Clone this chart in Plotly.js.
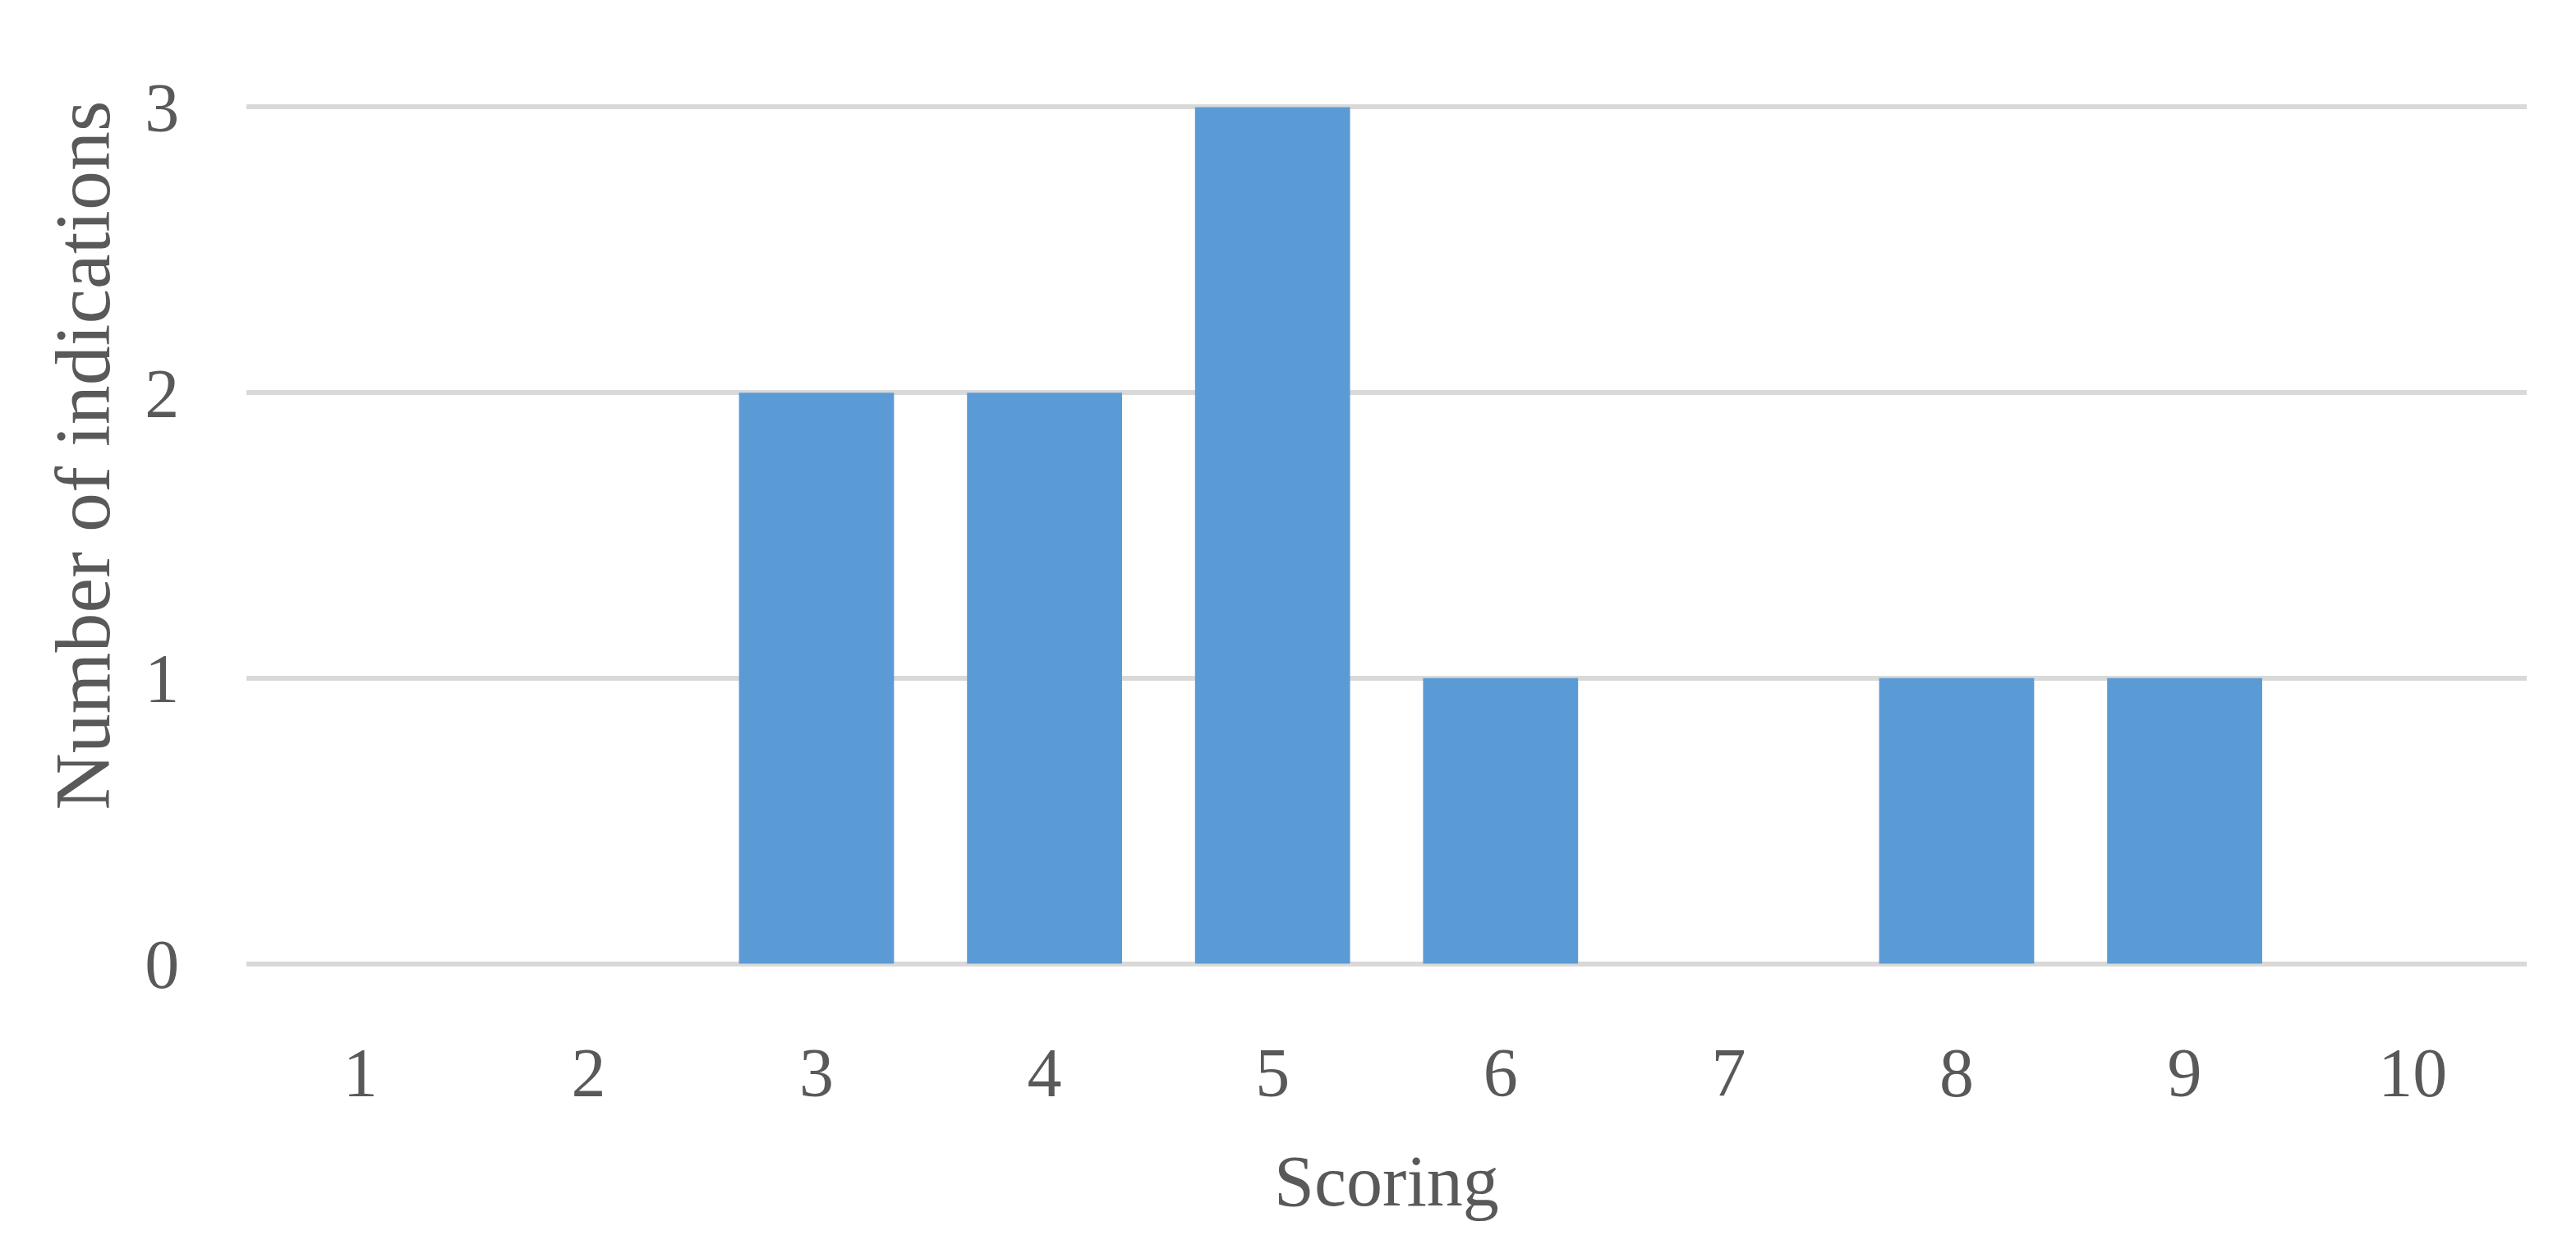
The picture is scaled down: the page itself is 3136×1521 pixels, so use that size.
<!DOCTYPE html>
<html>
<head>
<meta charset="utf-8">
<script src="https://cdn.plot.ly/plotly-3.0.1.min.js"></script>
<style>
  html, body { margin: 0; padding: 0; background: #fff; }
  #chart { width: 3136px; height: 1521px; }
</style>
</head>
<body>
<div id="chart"></div>
<script>
var scores = ['1', '2', '3', '4', '5', '6', '7', '8', '9', '10'];
var counts = [0, 0, 2, 2, 3, 1, 0, 1, 1, 0];
var yTicks = [0, 1, 2, 3];

var textColor = '#595959';
var gridColor = '#D9D9D9';

var trace = {
  x: scores,
  y: counts,
  type: 'bar',
  marker: { color: '#5B9BD5' },
  hoverinfo: 'x+y'
};

// range padded a hair so the 0 and 3 gridlines are drawn
var layout = {
  width: 3136,
  height: 1521,
  margin: { l: 300, r: 60, t: 127, b: 344, pad: 0 },
  paper_bgcolor: '#fff',
  plot_bgcolor: '#fff',
  bargap: 0.32,
  showlegend: false,
  font: { family: '"Liberation Serif", "DejaVu Serif", serif', size: 84, color: textColor },
  xaxis: {
    type: 'category',
    title: { text: 'Scoring', font: { size: 88, color: textColor }, standoff: 54 },
    showgrid: false,
    zeroline: false,
    showline: false,
    ticks: 'outside',
    ticklen: 56,
    tickcolor: 'rgba(0,0,0,0)',
    tickfont: { size: 84, color: textColor }
  },
  yaxis: {
    range: [-0.01, 3.01],
    tickvals: yTicks,
    ticktext: yTicks.map(String),
    showgrid: true,
    gridcolor: gridColor,
    gridwidth: 6,
    zeroline: false,
    showline: false,
    ticks: 'outside',
    ticklen: 64,
    tickcolor: 'rgba(0,0,0,0)',
    tickfont: { size: 84, color: textColor }
  },
  annotations: [{
    text: 'Number of indications',
    xref: 'paper', yref: 'paper',
    x: -0.072, y: 0.593,
    xanchor: 'center', yanchor: 'middle',
    textangle: -90,
    showarrow: false,
    font: { size: 96, color: textColor }
  }]
};

Plotly.newPlot('chart', [trace], layout, { displayModeBar: false, staticPlot: true });
</script>
</body>
</html>
